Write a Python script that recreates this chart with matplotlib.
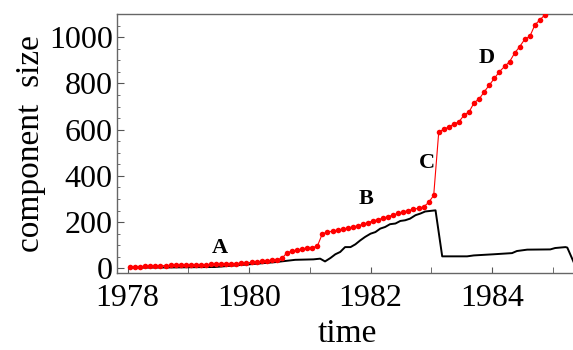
import matplotlib.pyplot as plt
from matplotlib.ticker import MultipleLocator

# Red series: sampled roughly monthly, starting just after Jan 1978
red_start = 1978.04
red_values = [
    6, 7, 8, 9, 10, 11, 11, 12, 13, 13, 14, 14,
    15, 15, 16, 16, 17, 17, 18, 19, 20, 21, 22, 24,
    26, 28, 30, 32, 35, 38, 43,
    68, 74, 78, 82, 86, 90, 96,
    150, 156, 162, 165, 169, 174, 179, 184, 190, 198, 205, 211, 217, 224,
    231, 238, 244, 250, 256, 260, 266, 285, 316,
    591, 601, 612, 624, 634, 663, 677, 717, 733, 764, 793, 822, 851, 873,
    894, 931, 959, 991, 1003, 1053, 1075, 1097, 1125,
]
red_times = [red_start + k / 12 for k in range(len(red_values))]

# Black series
black_times = [
    1978.04, 1978.70, 1979.44, 1979.98, 1980.43, 1980.76, 1981.06, 1981.17,
    1981.25, 1981.34, 1981.42, 1981.50, 1981.58, 1981.67, 1981.75, 1981.83,
    1981.91, 1982.00, 1982.08, 1982.16, 1982.24, 1982.32, 1982.41, 1982.49,
    1982.57, 1982.65, 1982.74, 1982.82, 1982.90, 1983.07, 1983.18, 1983.59,
    1983.70, 1984.03, 1984.33, 1984.41, 1984.58, 1984.96, 1985.04, 1985.21,
    1985.24, 1985.39,
]
black_values = [
    3, 4, 6, 17, 27, 37, 39, 42,
    30, 45, 61, 71, 92, 92, 104, 121,
    136, 150, 157, 172, 179, 191, 194, 205,
    208, 215, 230, 237, 246, 251, 52, 52,
    56, 61, 66, 75, 81, 82, 88, 92,
    90, 0,
]

labels = ["A", "B", "C", "D"]
label_x = [1979.52, 1981.93, 1982.93, 1983.92]
label_y = [88, 298, 454, 909]

plt.rcParams["font.family"] = "Liberation Serif"

fig = plt.figure(figsize=(5.73, 3.5), dpi=100)
ax = fig.add_axes([117 / 573, 77 / 350, 460 / 573, 259 / 350])

ax.plot(black_times, black_values, color="black", lw=1.4, zorder=2)
ax.plot(red_times, red_values, color="red", lw=0.8, marker="o",
        markersize=4, markeredgewidth=0, zorder=3)

for s, lx, ly in zip(labels, label_x, label_y):
    ax.text(lx, ly, s, fontsize=16, fontweight="bold", ha="center", va="center")

ax.set_xlim(1977.824, 1985.40)
ax.set_ylim(-20, 1100)

ax.xaxis.set_major_locator(MultipleLocator(2))
ax.xaxis.set_minor_locator(MultipleLocator(1))
ax.yaxis.set_major_locator(MultipleLocator(200))
ax.yaxis.set_minor_locator(MultipleLocator(50))

ax.tick_params(axis="both", which="both", direction="in", top=False, right=False,
               color="#555555", labelsize=23)
ax.tick_params(axis="x", which="both", length=4, pad=8)
ax.tick_params(axis="y", which="major", length=5, pad=3)
ax.tick_params(axis="y", which="minor", length=2.5)

for sp in ax.spines.values():
    sp.set_color("#666666")
    sp.set_linewidth(1.0)

ax.set_xlabel("time", fontsize=24, labelpad=4)
ax.set_ylabel("component  size", fontsize=24, labelpad=2)

fig.savefig("out.png", dpi=100)
